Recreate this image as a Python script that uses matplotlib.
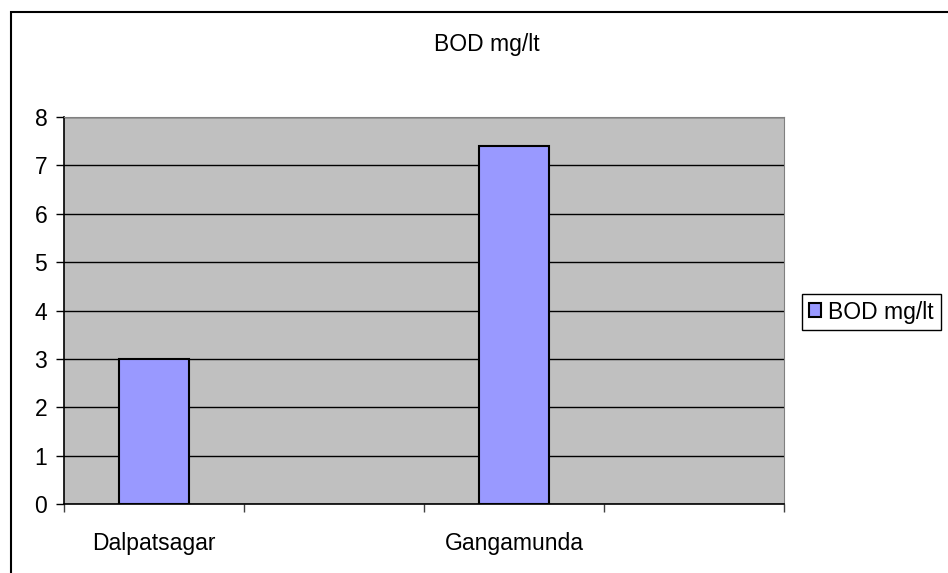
import numpy as np
import matplotlib.pyplot as plt
from matplotlib.patches import Rectangle

plt.rcParams['font.family'] = ['Liberation Sans', 'DejaVu Sans']

# four category slots on the axis, only two sampling sites carry readings
sites = ['Dalpatsagar', '', 'Gangamunda', '']
bod = [3.0, np.nan, 7.4, np.nan]
series_name = 'BOD mg/lt'
yticks = [0, 1, 2, 3, 4, 5, 6, 7, 8]

fs = 16.5

fig = plt.figure(figsize=(9.48, 5.73), dpi=100)
ax = fig.add_axes([64/948, 1 - 504/573, 720/948, 387/573])
ax.set_facecolor('#C0C0C0')

x = np.arange(len(sites))
ax.bar(x, bod, width=0.39, color='#9999FF', edgecolor='black',
       linewidth=1.5, label=series_name, zorder=3)

ax.set_xlim(-0.5, len(sites) - 0.5)
ax.set_ylim(0, 8)
ax.set_yticks(yticks)
ax.yaxis.grid(True, color='black', linewidth=1, zorder=1)
ax.set_axisbelow(True)

# ticks sit on the category boundaries, labels under each slot centre
ax.set_xticks(np.arange(len(sites) + 1) - 0.5)
ax.set_xticklabels([])
ax.set_xticks(x, minor=True)
ax.set_xticklabels(sites, minor=True, fontsize=fs)
ax.tick_params(axis='x', which='minor', length=0, pad=20)
ax.tick_params(axis='x', which='major', length=6, width=1, color='#404040')
ax.tick_params(axis='y', length=6, width=1, labelsize=fs, pad=6)

for side in ['top', 'right']:
    ax.spines[side].set_color('#808080')
for side in ['left', 'bottom']:
    ax.spines[side].set_color('black')
    ax.spines[side].set_linewidth(1.2)

fig.text(0.514, 1 - 45/573, series_name, ha='center', va='center', fontsize=fs)

# chart border, runs off the right and bottom edges
fig.patches.append(Rectangle((11/948, -0.1), 1.2, 1.1 - 12/573, transform=fig.transFigure,
                             fill=False, edgecolor='black', linewidth=1.5))

fig.legend(loc='center left', bbox_to_anchor=(802/948, 1 - 312/573), fontsize=fs,
           frameon=True, fancybox=False, edgecolor='black', framealpha=1,
           handlelength=0.55, handleheight=0.55, handletextpad=0.3, borderpad=0.3,
           borderaxespad=0)

fig.savefig('out.png', dpi=100)
